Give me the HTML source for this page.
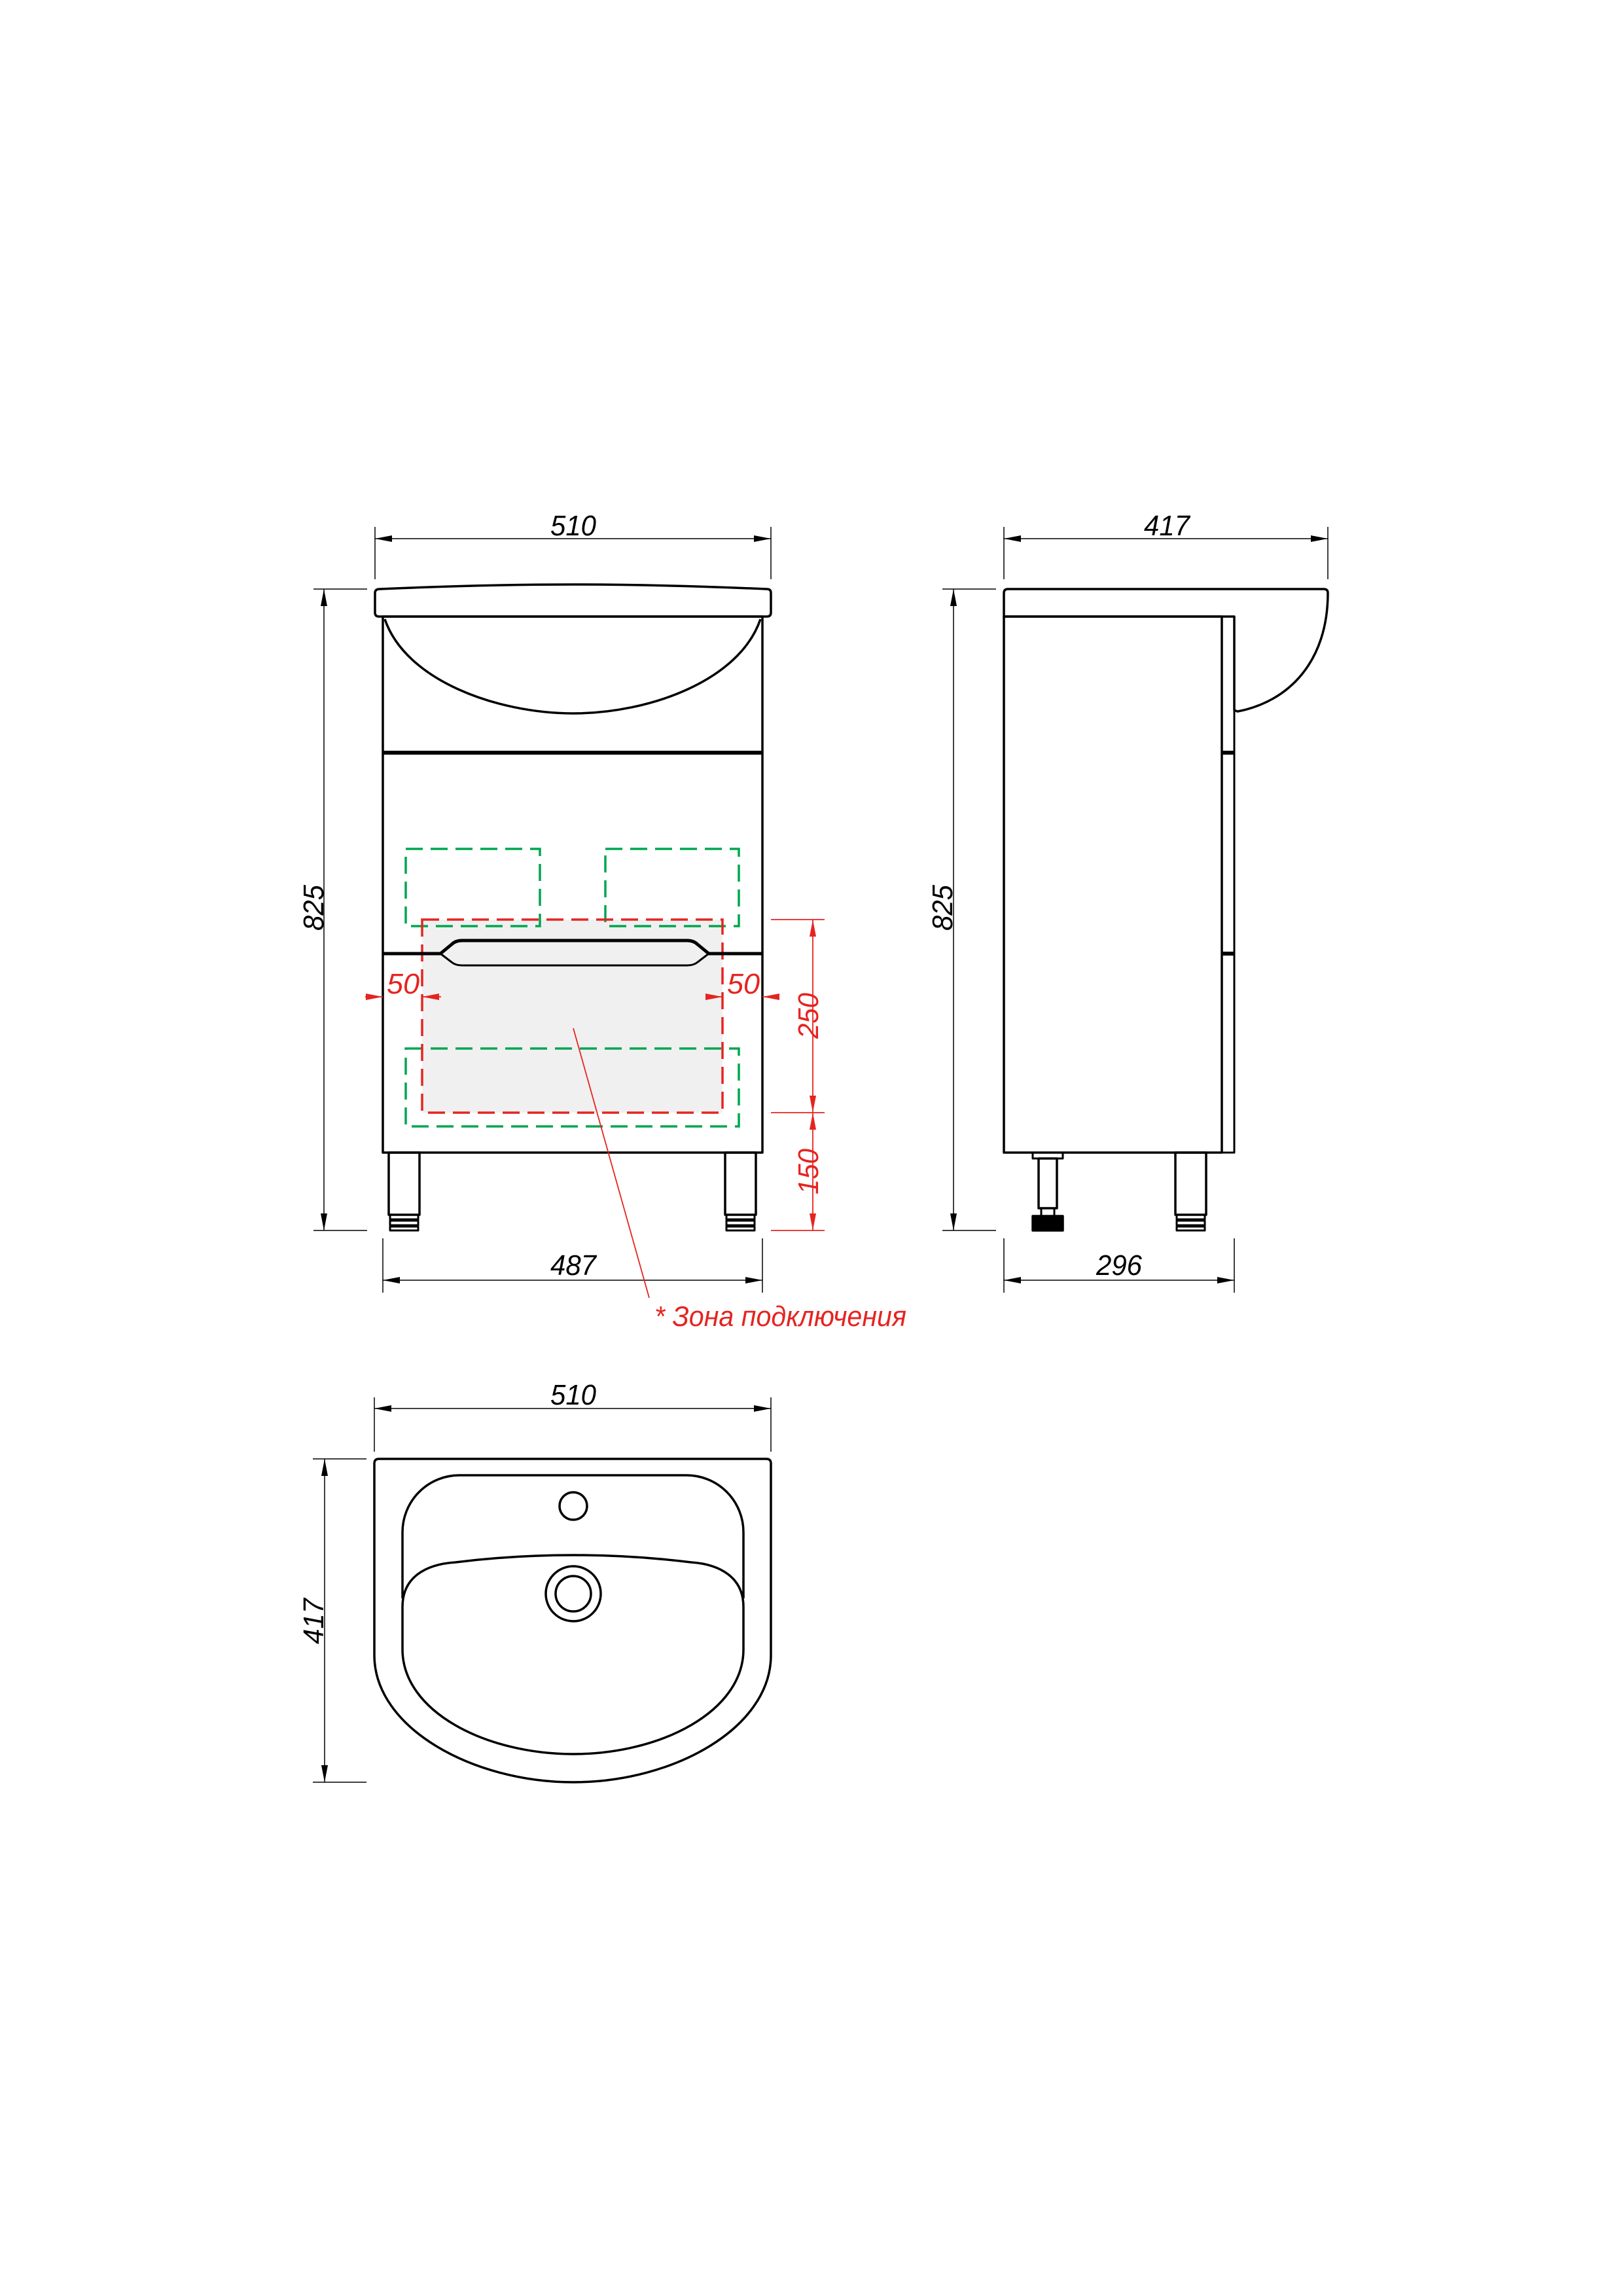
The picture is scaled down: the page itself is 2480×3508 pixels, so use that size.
<!DOCTYPE html>
<html><head><meta charset="utf-8"><style>
html,body{margin:0;padding:0;background:#fff}
svg{display:block}
text{font-family:"Liberation Sans",sans-serif;font-style:italic}
</style></head><body>
<svg width="2480" height="3508" viewBox="0 0 2480 3508" xmlns="http://www.w3.org/2000/svg">
<defs>
<marker id="ak" viewBox="0 0 26 10" refX="26" refY="5" markerWidth="26" markerHeight="10" markerUnits="userSpaceOnUse" orient="auto-start-reverse"><path d="M0,0L26,5L0,10z" fill="#000"/></marker>
<marker id="ar" viewBox="0 0 26 10" refX="26" refY="5" markerWidth="26" markerHeight="10" markerUnits="userSpaceOnUse" orient="auto-start-reverse"><path d="M0,0L26,5L0,10z" fill="#e52421"/></marker>
</defs>
<g fill="none" stroke="#000" stroke-width="1.5">
<line x1="573" y1="805" x2="573" y2="885"/><line x1="1178" y1="805" x2="1178" y2="885"/>
<line x1="573" y1="823" x2="1178" y2="823" marker-start="url(#ak)" marker-end="url(#ak)"/>
<line x1="479" y1="900" x2="561" y2="900"/><line x1="479" y1="1880" x2="561" y2="1880"/>
<line x1="495" y1="900" x2="495" y2="1880" marker-start="url(#ak)" marker-end="url(#ak)"/>
<line x1="585" y1="1892" x2="585" y2="1975"/><line x1="1165" y1="1892" x2="1165" y2="1975"/>
<line x1="585" y1="1956" x2="1165" y2="1956" marker-start="url(#ak)" marker-end="url(#ak)"/>
<line x1="1534" y1="805" x2="1534" y2="885"/><line x1="2029" y1="805" x2="2029" y2="885"/>
<line x1="1534" y1="823" x2="2029" y2="823" marker-start="url(#ak)" marker-end="url(#ak)"/>
<line x1="1440" y1="900" x2="1522" y2="900"/><line x1="1440" y1="1880" x2="1522" y2="1880"/>
<line x1="1457" y1="900" x2="1457" y2="1880" marker-start="url(#ak)" marker-end="url(#ak)"/>
<line x1="1534" y1="1892" x2="1534" y2="1975"/><line x1="1886" y1="1892" x2="1886" y2="1975"/>
<line x1="1534" y1="1956" x2="1886" y2="1956" marker-start="url(#ak)" marker-end="url(#ak)"/>
<line x1="572" y1="2135" x2="572" y2="2218"/><line x1="1178" y1="2135" x2="1178" y2="2218"/>
<line x1="572" y1="2152" x2="1178" y2="2152" marker-start="url(#ak)" marker-end="url(#ak)"/>
<line x1="478" y1="2229" x2="560" y2="2229"/><line x1="478" y1="2723" x2="560" y2="2723"/>
<line x1="496" y1="2229" x2="496" y2="2723" marker-start="url(#ak)" marker-end="url(#ak)"/>
</g>
<g font-size="44" fill="#000" text-anchor="middle" lengthAdjust="spacingAndGlyphs">
<text x="876" y="818" textLength="70" lengthAdjust="spacingAndGlyphs">510</text>
<text x="1783" y="818" textLength="70" lengthAdjust="spacingAndGlyphs">417</text>
<text x="876" y="1948" textLength="70" lengthAdjust="spacingAndGlyphs">487</text>
<text x="1710" y="1948" textLength="70" lengthAdjust="spacingAndGlyphs">296</text>
<text x="876" y="2146" textLength="70" lengthAdjust="spacingAndGlyphs">510</text>
<text transform="translate(494,1387) rotate(-90)" textLength="70" lengthAdjust="spacingAndGlyphs">825</text>
<text transform="translate(1455,1387) rotate(-90)" textLength="70" lengthAdjust="spacingAndGlyphs">825</text>
<text transform="translate(494,2477) rotate(-90)" textLength="70" lengthAdjust="spacingAndGlyphs">417</text>
</g>
<g fill="none" stroke="#000" stroke-width="3.5" stroke-linejoin="round">
<path d="M580,900 Q740,893 876,893 Q1010,893 1172,900 Q1178,900 1178,906 L1178,936 Q1178,942 1172,942 L579,942 Q573,942 573,936 L573,906 Q573,900 580,900 Z"/>
<rect x="585" y="942" width="580" height="819"/>
<path d="M588,946 C620,1040 760,1090 876,1090 C992,1090 1130,1040 1162,946"/>
<line x1="585" y1="1150" x2="1165" y2="1150" stroke-width="6"/>
<rect x="594" y="1761" width="47" height="95"/><rect x="1108" y="1761" width="47" height="95"/>
<g stroke-width="3"><rect x="596" y="1856" width="43" height="7"/><rect x="596" y="1865" width="43" height="7"/><rect x="596" y="1874" width="43" height="6"/>
<rect x="1110" y="1856" width="43" height="7"/><rect x="1110" y="1865" width="43" height="7"/><rect x="1110" y="1874" width="43" height="6"/></g>
</g>
<rect x="645" y="1405" width="459" height="295" fill="#f0f0f0"/>
<g fill="none" stroke="#00a650" stroke-width="3.5" stroke-dasharray="26,12">
<rect x="620" y="1297" width="205" height="118"/>
<rect x="925" y="1297" width="204" height="118"/>
<rect x="620" y="1602" width="509" height="119"/>
</g>
<rect x="645" y="1405" width="459" height="295" fill="none" stroke="#e52421" stroke-width="3.5" stroke-dasharray="26,12"/>
<g fill="none" stroke="#000" stroke-linejoin="round">
<path d="M585,1457 L673,1457 L690,1443 Q696,1437 706,1437 L1050,1437 Q1060,1437 1066,1443 L1083,1457 L1165,1457" stroke-width="5"/>
<path d="M673,1457 L690,1470 Q696,1475 706,1475 L1050,1475 Q1060,1475 1066,1470 L1083,1457" stroke-width="3"/>
</g>
<g fill="none" stroke="#e52421" stroke-width="1.8">
<line x1="558" y1="1523" x2="585" y2="1523" marker-end="url(#ar)"/>
<line x1="674" y1="1523" x2="645" y2="1523" marker-end="url(#ar)"/>
<line x1="1078" y1="1523" x2="1104" y2="1523" marker-end="url(#ar)"/>
<line x1="1190" y1="1523" x2="1165" y2="1523" marker-end="url(#ar)"/>
<line x1="1178" y1="1405" x2="1260" y2="1405"/><line x1="1178" y1="1700" x2="1260" y2="1700"/><line x1="1178" y1="1880" x2="1260" y2="1880"/>
<line x1="1242" y1="1405" x2="1242" y2="1700" marker-start="url(#ar)" marker-end="url(#ar)"/>
<line x1="1242" y1="1700" x2="1242" y2="1880" marker-start="url(#ar)" marker-end="url(#ar)"/>
<line x1="876" y1="1571" x2="992" y2="1983"/>
</g>
<g fill="#e52421" font-size="44" text-anchor="middle">
<text x="616" y="1518" textLength="50" lengthAdjust="spacingAndGlyphs">50</text>
<text x="1136" y="1518" textLength="50" lengthAdjust="spacingAndGlyphs">50</text>
<text transform="translate(1250,1552) rotate(-90)" textLength="70" lengthAdjust="spacingAndGlyphs">250</text>
<text transform="translate(1250,1790) rotate(-90)" textLength="70" lengthAdjust="spacingAndGlyphs">150</text>
<text x="1000" y="2026" text-anchor="start" textLength="385" lengthAdjust="spacingAndGlyphs">* Зона подключения</text>
</g>
<g fill="none" stroke="#000" stroke-width="3.5" stroke-linejoin="round">
<path d="M1540,900 L2023,900 Q2029,900 2029,906 C2029,1010 1970,1072 1891,1087 L1886,1085 L1886,942 L1534,942 L1534,906 Q1534,900 1540,900 Z"/>
<rect x="1534" y="942" width="333" height="819"/>
<rect x="1867" y="942" width="19" height="819" stroke-width="3"/>
<line x1="1867" y1="1150" x2="1886" y2="1150" stroke-width="6"/>
<line x1="1867" y1="1457" x2="1886" y2="1457" stroke-width="6"/>
<rect x="1578" y="1761" width="46" height="9" stroke-width="3"/>
<rect x="1587" y="1770" width="28" height="76"/>
<rect x="1591" y="1846" width="20" height="12" stroke-width="3"/>
<rect x="1578" y="1858" width="46" height="22" fill="#000"/>
<rect x="1796" y="1761" width="47" height="95"/>
<g stroke-width="3"><rect x="1798" y="1856" width="43" height="7"/><rect x="1798" y="1865" width="43" height="7"/><rect x="1798" y="1874" width="43" height="6"/></g>
</g>
<g fill="none" stroke="#000" stroke-width="3.5">
<path d="M572,2236 Q572,2229 579,2229 L1171,2229 Q1178,2229 1178,2236 L1178,2529 C1178,2640 1030,2723 876,2723 C722,2723 572,2640 572,2529 Z"/>
<path d="M615,2442 L615,2341 A87,87 0 0 1 702,2254 L1049,2254 A87,87 0 0 1 1136,2341 L1136,2442"/>
<path d="M615,2520 L615,2455 C615,2410 650,2390 696,2387 C760,2379 820,2376 876,2376 C932,2376 992,2379 1056,2387 C1100,2390 1136,2410 1136,2455 L1136,2520 C1136,2615 1010,2680 876,2680 C742,2680 615,2615 615,2520 Z"/>
<circle cx="876" cy="2301" r="21"/>
<circle cx="876" cy="2435" r="42"/>
<circle cx="876" cy="2435" r="27"/>
</g>
</svg>
</body></html>
